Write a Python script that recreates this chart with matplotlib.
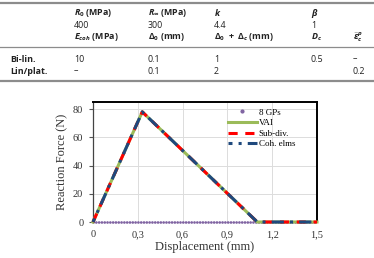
import numpy as np
import matplotlib
matplotlib.use("Agg")
import matplotlib.pyplot as plt
from matplotlib.lines import Line2D

# ---------------- table data ----------------
row_labels = ["Bi-lin.", "Lin/plat."]
head_row1 = [r"$R_0$ (MPa)", r"$R_\infty$ (MPa)", r"$k$", r"$\beta$", ""]
head_row2 = ["400", "300", "4.4", "1", ""]
head_row3 = [r"$E_{coh}$ (MPa)", r"$\Delta_0$ (mm)", r"$\Delta_0\ +\ \Delta_c$ (mm)",
             r"$D_c$", r"$\bar{\varepsilon}^p_c$"]
body_rows = [
    ["10", "0.1", "1", "0.5", "–"],
    ["–", "0.1", "2", "", "0.2"],
]

# ---------------- curve data ----------------
disp = [0.0, 0.33, 1.1, 1.5]
force = [0.0, 78.0, 0.0, 0.0]
gp_disp = [0.0, 1.5]
gp_force = [0.0, 0.0]

x_ticks = [0, 0.3, 0.6, 0.9, 1.2, 1.5]
x_tick_labels = ["0", "0,3", "0,6", "0,9", "1,2", "1,5"]
y_ticks = [0, 20, 40, 60, 80]

tab_family = "Open Sans"
plt.rcParams["mathtext.fontset"] = "custom"
plt.rcParams["mathtext.rm"] = f"{tab_family}:bold"
plt.rcParams["mathtext.it"] = f"{tab_family}:italic:bold"
plt.rcParams["mathtext.bf"] = f"{tab_family}:bold"

W, H = 374, 258
fig = plt.figure(figsize=(W / 100, H / 100), dpi=100)

# ======================================================
# 1) Table (pixel coordinates)
# ======================================================
tab = fig.add_axes([0, 0, 1, 1])
tab.set_xlim(0, W)
tab.set_ylim(H, 0)
tab.axis("off")

col_x = [74, 148, 214, 311, 353]
txt_color = "#222222"
tfont = dict(family=tab_family, fontsize=6.4, color=txt_color, va="center", ha="left")

rule_c = "#8c8c8c"
tab.plot([0, W], [3, 3], color=rule_c, lw=1.6)
tab.plot([0, W], [47, 47], color=rule_c, lw=0.9)
tab.plot([0, W], [81, 81], color=rule_c, lw=1.6)

for x, s in zip(col_x, head_row1):
    tab.text(x, 13, s, fontweight="bold", **tfont)
for x, s in zip(col_x, head_row2):
    tab.text(x, 25, s, **tfont)
for x, s in zip(col_x, head_row3):
    tab.text(x, 37, s, fontweight="bold", **tfont)

for i, (lab, row) in enumerate(zip(row_labels, body_rows)):
    y = 59 + 12 * i
    tab.text(10, y, lab, fontweight="bold", **tfont)
    for x, s in zip(col_x, row):
        tab.text(x, y, s, **tfont)

# ======================================================
# 2) Reaction force plot
# ======================================================
ax = fig.add_axes([93 / W, 1 - 222 / H, (317 - 93) / W, (222 - 102) / H])
serif = "Liberation Serif"

ax.grid(True, color="#dcdcdc", lw=0.7)
ax.set_axisbelow(True)

ax.plot(gp_disp, gp_force, color="#8064a2", lw=2.0, ls=(0, (0.01, 1.0)),
        dash_capstyle="round", zorder=2, clip_on=False)
l_vai, = ax.plot(disp, force, color="#9bbb59", lw=2.2, zorder=3, clip_on=False)
l_sub, = ax.plot(disp, force, color="#ff0000", lw=2.2, ls=(0, (3, 2.5)), zorder=4,
                 clip_on=False)
l_coh, = ax.plot(disp, force, color="#1f497d", lw=2.2, ls=(2.7, (4, 2, 1, 2)), zorder=5,
                 clip_on=False)

ax.set_xlim(0, 1.5)
ax.set_ylim(0, 85)
ax.set_xticks(x_ticks)
ax.set_xticklabels(x_tick_labels)
ax.set_yticks(y_ticks)
ax.tick_params(axis="x", length=0, pad=6, labelsize=7.5, labelcolor="#333333")
ax.tick_params(axis="y", length=3, width=0.8, color="#555555", pad=4,
               labelsize=7.5, labelcolor="#333333")
for lab in ax.get_xticklabels() + ax.get_yticklabels():
    lab.set_family(serif)

for side in ["top", "right"]:
    ax.spines[side].set_linewidth(1.4)
    ax.spines[side].set_color("black")
ax.spines["left"].set_linewidth(0.9)
ax.spines["left"].set_color("#444444")
ax.spines["bottom"].set_visible(False)

ax.set_xlabel("Displacement (mm)", family=serif, fontsize=9, color="#333333", labelpad=1)
ax.set_ylabel("Reaction Force (N)", family=serif, fontsize=9, color="#333333", labelpad=3)

gp_handle = Line2D([], [], ls="none", marker="o", ms=2, color="#8064a2")
ax.legend([gp_handle, l_vai, l_sub, l_coh], ["8 GPs", "VAI", "Sub-div.", "Coh. elms"],
          loc="upper right", frameon=False, prop=dict(family=serif, size=6.5),
          handlelength=3.2, handletextpad=0.2, labelspacing=0.25,
          borderaxespad=0.3, bbox_to_anchor=(0.93, 1.0))

fig.savefig("out.png", dpi=100)
